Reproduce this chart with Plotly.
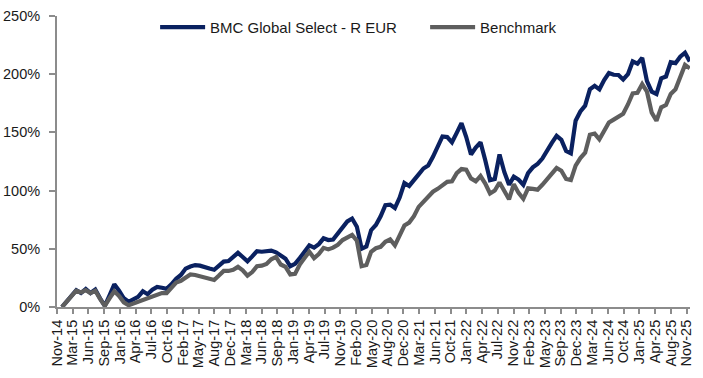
import plotly.graph_objects as go

tick_labels = ["Nov-14", "Mar-15", "Jun-15", "Sep-15", "Jan-16", "Apr-16", "Jul-16", "Oct-16",
               "Feb-17", "May-17", "Aug-17", "Dec-17", "Mar-18", "Jun-18", "Sep-18", "Jan-19",
               "Apr-19", "Jul-19", "Nov-19", "Feb-20", "May-20", "Aug-20", "Dec-20", "Mar-21",
               "Jun-21", "Oct-21", "Jan-22", "Apr-22", "Jul-22", "Nov-22", "Feb-23", "May-23",
               "Sep-23", "Dec-23", "Mar-24", "Jun-24", "Oct-24", "Jan-25", "Apr-25", "Aug-25",
               "Nov-25"]

fund = [0, 5.3, 10.5, 14.5, 12, 15.5, 12, 15, 7.5, 1,
        10, 19.5, 14, 7.5, 4.5, 7, 8.8, 13.5, 11, 14.8,
        17.2, 16.5, 15.6, 19.5, 24.2, 27.5, 33, 34.8, 36, 35.5,
        34, 33, 32, 35.5, 39, 39.5, 43, 46.5, 43, 39.2,
        43.5, 48, 47.5, 47.8, 48.5, 47, 44, 41.5, 35, 37,
        42, 47.5, 53, 51, 54, 59, 57.5, 58, 63, 69,
        73.5, 76, 69, 50, 52, 66, 70.5, 78, 87.5, 88,
        85, 94, 106.5, 104, 108.5, 114, 119, 121.5, 129, 138.5,
        146.5, 146, 141.5, 149.6, 158, 146, 131, 137, 141.5, 126,
        109, 110, 131, 116, 105, 112, 109.5, 105, 115, 120,
        123, 127.5, 135, 141, 147, 143.6, 134, 132, 160, 168,
        173, 187, 190, 187, 195, 201, 199.5, 199.3, 195.5, 200,
        211, 209, 214, 194, 185, 183, 196.5, 198, 210.3, 209.5,
        215, 218.5, 211]

bench = [0, 5, 10, 14, 12.5, 14.5, 12, 14, 7, 1,
         7.5, 13.5, 9.5, 4, 1.5, 3, 5, 6.5, 8.2, 9.8,
         11, 12, 12, 16.5, 21, 22.5, 25.5, 28, 27.5, 26.5,
         25.2, 24, 23.2, 27, 31, 31, 32, 34.5, 31.5, 27,
         30, 35, 35.5, 37, 41, 43, 36.5, 34.5, 28, 28.5,
         36.5, 42, 47.5, 42, 45.5, 50.8, 49.5, 51, 53.5, 57.5,
         60, 62, 57, 35, 36, 47.5, 50.5, 51.7, 56, 58,
         53, 61, 70, 72.5, 78, 86, 90, 94, 99, 101.5,
         104, 107.5, 108, 115, 118.5, 118, 110.5, 108, 112.5, 106,
         97.5, 100, 107, 99.5, 92.5, 105.5, 98, 93, 102, 101.5,
         100.8, 105, 109.5, 115, 119.4, 117, 110, 109, 121.5, 128,
         132.5, 148, 149, 144, 150.5, 158.5, 161, 163.5, 166, 174,
         183.5, 184, 191.5, 185, 167, 160, 171.5, 173.5, 183, 187,
         198, 208, 205]

n = len(fund)
x = list(range(n))

# tick positions: evenly spaced from first to last label in data-index units
t_first, t_last = -1.05, 131.35
step = (t_last - t_first) / (len(tick_labels) - 1)
tickvals = [t_first + i * step for i in range(len(tick_labels))]

NAVY = "#0A2160"
GRAY = "#5E5E5E"
AXIS = "#8C8C8C"
FONT = "Liberation Sans, Arial, sans-serif"

fig = go.Figure()
fig.add_trace(go.Scatter(x=x, y=fund, mode="lines", name="BMC Global Select - R EUR",
                         line=dict(color=NAVY, width=4.2)))
fig.add_trace(go.Scatter(x=x, y=bench, mode="lines", name="Benchmark",
                         line=dict(color=GRAY, width=4.2)))

fig.update_layout(
    width=703, height=378,
    margin=dict(l=57, r=13, t=16, b=70.5, autoexpand=False),
    paper_bgcolor="white", plot_bgcolor="white",
    font=dict(family=FONT, size=14.5, color="#1a1a1a"),
    showlegend=True,
    legend=dict(orientation="h", x=0.155, xanchor="left", y=0.961, yanchor="middle",
                font=dict(size=15), bgcolor="rgba(0,0,0,0)", itemwidth=45,
                entrywidth=210, traceorder="normal"),
)
fig.update_xaxes(
    range=[t_first, n - 1 + 0.05], tickmode="array", tickvals=tickvals, ticktext=tick_labels,
    tickangle=-90, showgrid=False, zeroline=False, showline=True, linecolor=AXIS, linewidth=2,
    ticks="outside", ticklen=5, tickwidth=1.5, tickcolor=AXIS, tickfont=dict(size=14.5),
    automargin=False,
)
fig.update_yaxes(
    range=[0, 250], tickmode="linear", tick0=0, dtick=50, ticksuffix="%",
    showgrid=False, zeroline=False, showline=True, linecolor=AXIS, linewidth=2,
    ticks="outside", ticklen=6, tickwidth=1.5, tickcolor=AXIS, tickfont=dict(size=14.5),
    ticklabelstandoff=6, automargin=False,
)

# remove the default 8px page margin so the figure fills the window exactly
fig.write_html("out.html", config={"displayModeBar": False},
               post_script="document.body.style.margin='0px';")
